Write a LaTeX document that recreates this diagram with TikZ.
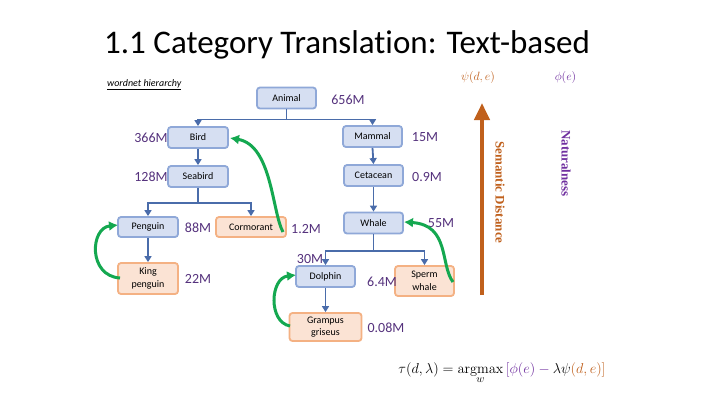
\documentclass[tikz,border=0pt]{standalone}
\usepackage[no-math]{fontspec}
\setmainfont{Carlito}[Ligatures=NoCommon]
\newfontfamily\serifb{Liberation Serif}
\usetikzlibrary{arrows.meta}
\definecolor{bfill}{RGB}{214,223,242}
\definecolor{bdraw}{RGB}{143,168,216}
\definecolor{ofill}{RGB}{251,227,212}
\definecolor{odraw}{RGB}{244,177,131}
\definecolor{conncol}{RGB}{74,108,170}
\definecolor{greencol}{RGB}{20,168,80}
\definecolor{numcol}{RGB}{85,50,125}
\definecolor{browncol}{RGB}{192,96,28}
\definecolor{purplecol}{RGB}{112,48,160}
\tikzset{
  box/.style={draw=bdraw,fill=bfill,line width=1.8bp,rounded corners=3bp,inner sep=0pt,
    minimum width=59bp,minimum height=21bp,font=\fontsize{10bp}{12.5bp}\selectfont,align=center},
  obox/.style={box,draw=odraw,fill=ofill},
  num/.style={text=numcol,font=\fontsize{14bp}{16bp}\selectfont,inner sep=0pt},
  conn/.style={draw=conncol,line width=1.8bp,-{Triangle[width=7bp,length=6bp]}},
  garrow/.style={draw=greencol,line width=3bp,-{Latex[width=10bp,length=9bp]}},
  barrow/.style={draw=browncol,line width=4bp,-{Triangle[width=15bp,length=17bp]}}
}
\begin{document}
\begin{tikzpicture}[x=1bp,y=-1bp]
\useasboundingbox (0,0) rectangle (720,405);
\fill[white] (0,0) rectangle (720,405);
% title
\node[anchor=base west,inner sep=0pt,font=\fontsize{33bp}{36bp}\selectfont] (title) at (104,53) {1.1 Category Translation: Text-based};
\node[anchor=base west,inner sep=0pt,font=\fontsize{10bp}{12bp}\selectfont\itshape] (wn) at (107,86) {\underline{wordnet hierarchy}};
% boxes
\node[box] (animal) at (286.5,98) {Animal};
\node[box,minimum width=60bp] (bird) at (198,137.5) {Bird};
\node[box] (mammal) at (372.5,136.5) {Mammal};
\node[box,minimum width=60bp] (seabird) at (198,176.5) {Seabird};
\node[box] (cetacean) at (373.5,175.5) {Cetacean};
\node[box,minimum width=60bp,minimum height=20bp] (penguin) at (148,227) {Penguin};
\node[obox,minimum width=70bp,minimum height=20bp] (cormorant) at (251,227) {Cormorant};
\node[obox,minimum width=60bp,minimum height=31bp] (king) at (148,278.5) {King\\penguin};
\node[box] (whale) at (373.5,223) {Whale};
\node[box] (dolphin) at (325.5,276.5) {Dolphin};
\node[obox,minimum height=30bp] (sperm) at (424.5,281) {Sperm\\whale};
\node[obox,minimum width=72bp,minimum height=28bp] (grampus) at (325.5,327) {Grampus\\griseus};
% numbers
\node[num] (n656) at (348,100) {656M};
\node[num] (n366) at (151,138) {366M};
\node[num] (n15) at (425,137) {15M};
\node[num] (n128) at (151,177) {128M};
\node[num] (n09) at (427,177) {0.9M};
\node[num] (n88) at (198,228) {88M};
\node[num] (n12) at (306,229) {1.2M};
\node[num] (n22) at (198,279) {22M};
\node[num] (n55) at (441,223) {55M};
\node[num] (n30) at (310,259) {30M};
\node[num] (n64) at (382,282) {6.4M};
\node[num] (n008) at (386,328) {0.08M};
% tree connectors
\draw[conn] (animal.south) -- ++(0,10) -| (bird.north);
\draw[conn] (animal.south) -- ++(0,10) -| (mammal.north);
\draw[conn] (bird.south) -- (seabird.north);
\draw[conn] (mammal.south) -- (cetacean.north);
\draw[conn] (seabird.south) -- ++(0,15) -| (penguin.north);
\draw[conn] (seabird.south) -- ++(0,15) -| (cormorant.north);
\draw[conn] (penguin.south) -- (king.north);
\draw[conn] (cetacean.south) -- (whale.north);
\draw[conn] (whale.south) -- ++(0,16.5) -| (dolphin.north);
\draw[conn] (whale.south) -- ++(0,16.5) -| (sperm.north);
\draw[conn] (dolphin.south) -- (grampus.north);
% green arrows
\coordinate (gs1) at (283,232);
\coordinate (ge1) at (230,138);
\draw[garrow] (gs1) .. controls (272,212) and (272,145) .. (ge1);
\coordinate (gs2) at (120,278);
\coordinate (ge2) at (118,225);
\draw[garrow] (gs2) .. controls (88,276) and (90,228) .. (ge2);
\coordinate (gs3) at (290,326);
\coordinate (ge3) at (296,275);
\draw[garrow] (gs3) .. controls (268,322) and (270,278) .. (ge3);
\coordinate (gs4) at (453,282);
\coordinate (ge4) at (404,222);
\draw[garrow] (gs4) .. controls (440,265) and (450,225) .. (ge4);
% brown axis
\coordinate (sdbot) at (482,295);
\coordinate (sdtop) at (482,103);
\draw[barrow] (sdbot) -- (sdtop);
\node[rotate=-90,text=browncol,font=\serifb\bfseries\fontsize{13bp}{15bp}\selectfont,inner sep=0pt] (sd) at (500,192.5) {Semantic Distance};
\node[rotate=-90,text=purplecol,font=\serifb\bfseries\fontsize{13bp}{15bp}\selectfont,inner sep=0pt] (nat) at (566,163.5) {Naturalness};
\node[text=browncol,font=\fontsize{12bp}{13bp}\selectfont,inner sep=0pt] (psi) at (478,78) {$\psi(d,e)$};
\node[text=purplecol,font=\fontsize{12bp}{13bp}\selectfont,inner sep=0pt] (phi) at (565.5,78) {$\phi(e)$};
% formula
\node[font=\fontsize{15.5bp}{18bp}\selectfont,inner sep=0pt,anchor=base] (formula) at (502,373) {$\displaystyle \tau(d,\lambda)=\mathop{\mathrm{argmax}}\limits_{w}\textcolor{purplecol}{[\phi(e)-{}}\lambda\psi\textcolor{browncol}{(d,e)]}$};
\end{tikzpicture}
\end{document}
